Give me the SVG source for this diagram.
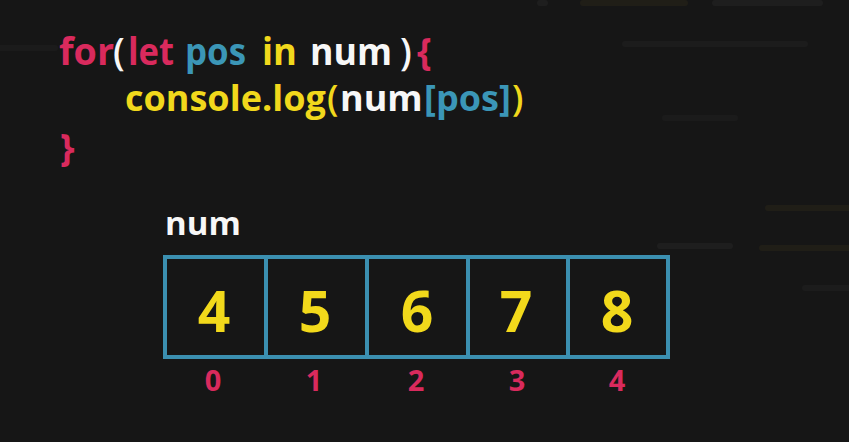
<svg xmlns="http://www.w3.org/2000/svg" width="849" height="442" viewBox="0 0 849 442">
<style>
.code{font-family:"Open Sans","Noto Sans",sans-serif;font-weight:700;font-size:37px}
.l2{font-size:36px}
.par{font-weight:600}
.pk{fill:#d92a5d}.bl{fill:#3b96b7}.yl{fill:#f1d81c}.wh{fill:#f7f7f7}
.cell{fill:none;stroke:#3b8fb0;stroke-width:4}
.val{font-family:"Open Sans","Noto Sans",sans-serif;font-weight:700;font-size:57px;fill:#f2d91b;text-anchor:middle}
.idx{font-family:"Open Sans","Noto Sans",sans-serif;font-weight:700;font-size:29px;fill:#d92a5d;text-anchor:middle}
.streak{stroke-linecap:round;stroke-width:6;opacity:0.5}
</style>
<rect width="849" height="442" fill="#161616"/>
<g id="background">
<line class="streak" x1="540" y1="3" x2="545" y2="3" stroke="#262626"/>
<line class="streak" x1="583" y1="3" x2="685" y2="3" stroke="#2a2618"/>
<line class="streak" x1="715" y1="3" x2="820" y2="3" stroke="#262626"/>
<line class="streak" x1="625" y1="44" x2="805" y2="44" stroke="#222222"/>
<line class="streak" x1="665" y1="118" x2="735" y2="118" stroke="#202020"/>
<line class="streak" x1="768" y1="208" x2="849" y2="208" stroke="#2a2618"/>
<line class="streak" x1="660" y1="246" x2="730" y2="246" stroke="#262626"/>
<line class="streak" x1="762" y1="248" x2="849" y2="248" stroke="#2a2618"/>
<line class="streak" x1="805" y1="288" x2="849" y2="288" stroke="#222222"/>
<line class="streak" x1="0" y1="48" x2="55" y2="48" stroke="#202020"/>
</g>
<g id="code">
<text class="code pk" x="59" y="65" textLength="55" lengthAdjust="spacingAndGlyphs">for</text>
<text class="code par wh" x="113" y="65">(</text>
<text class="code pk" x="128" y="65" textLength="46" lengthAdjust="spacingAndGlyphs">let</text>
<text class="code bl" x="185" y="65" textLength="61" lengthAdjust="spacingAndGlyphs">pos</text>
<text class="code yl" x="262" y="65" textLength="35" lengthAdjust="spacingAndGlyphs">in</text>
<text class="code wh" x="310" y="65" textLength="82" lengthAdjust="spacingAndGlyphs">num</text>
<text class="code par wh" x="400" y="65">)</text>
<text class="code pk" x="417" y="65">{</text>
<text class="code l2 yl" x="125" y="111">console.log</text>
<text class="code l2 par yl" x="327" y="111">(</text>
<text class="code l2 wh" x="340" y="111">num</text>
<text class="code l2 bl" x="424" y="111">[pos]</text>
<text class="code l2 par yl" x="512" y="111">)</text>
<text class="code pk" x="60" y="161">}</text>
</g>
<g id="label-num"><text x="165" y="235" font-family="Open Sans, sans-serif" font-weight="700" font-size="33" fill="#f7f7f7">num</text></g>
<g id="array">
<rect class="cell" x="165" y="257" width="101" height="100"/>
<rect class="cell" x="266" y="257" width="101" height="100"/>
<rect class="cell" x="367" y="257" width="101" height="100"/>
<rect class="cell" x="468" y="257" width="100" height="100"/>
<rect class="cell" x="568" y="257" width="100" height="100"/>
</g>
<g id="cell-0"><text class="val" x="214" y="332">4</text><text class="idx" x="213" y="391">0</text></g>
<g id="cell-1"><text class="val" x="315" y="332">5</text><text class="idx" x="314" y="391">1</text></g>
<g id="cell-2"><text class="val" x="417" y="332">6</text><text class="idx" x="416" y="391">2</text></g>
<g id="cell-3"><text class="val" x="516" y="332">7</text><text class="idx" x="517" y="391">3</text></g>
<g id="cell-4"><text class="val" x="617" y="332">8</text><text class="idx" x="617" y="391">4</text></g>
</svg>
